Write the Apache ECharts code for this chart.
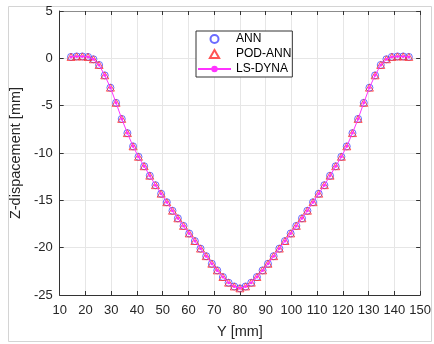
<!DOCTYPE html>
<html>
<head>
<meta charset="utf-8">
<script src="https://cdn.jsdelivr.net/npm/echarts@6/dist/echarts.min.js"></script>
<style>
  html, body { margin: 0; padding: 0; background: #fff; }
  #chart { width: 434px; height: 344px; }
</style>
</head>
<body>
<div id="chart"></div>
<script>
// Y position of the nodes [mm]
const yPos = [
  14.4, 16.6, 18.8, 21.0, 23.1, 25.3, 27.5, 29.7, 31.9, 34.1,
  36.3, 38.5, 40.6, 42.8, 45.0, 47.2, 49.4, 51.6, 53.8, 55.9,
  58.1, 60.3, 62.5, 64.7, 66.9, 69.1, 71.2, 73.4, 75.6, 77.8,
  80.0, 82.2, 84.4, 86.6, 88.8, 90.9, 93.1, 95.3, 97.5, 99.7,
  101.9, 104.1, 106.2, 108.4, 110.6, 112.8, 115.0, 117.2, 119.4, 121.5,
  123.7, 125.9, 128.1, 130.3, 132.5, 134.7, 136.9, 139.0, 141.2, 143.4, 145.6
];

// Z displacement [mm], LS-DYNA reference
const lsDyna = [
  0.15, 0.2, 0.2, 0.15, -0.1, -0.7, -1.8, -3.1, -4.7, -6.4,
  -7.9, -9.3, -10.4, -11.4, -12.4, -13.4, -14.3, -15.2, -16.1, -16.9,
  -17.7, -18.5, -19.3, -20.1, -20.9, -21.7, -22.4, -23.1, -23.7, -24.1,
  -24.3, -24.1, -23.7, -23.1, -22.4, -21.7, -20.9, -20.1, -19.3, -18.5,
  -17.7, -16.9, -16.1, -15.2, -14.3, -13.4, -12.4, -11.4, -10.4, -9.3,
  -7.9, -6.4, -4.7, -3.1, -1.8, -0.7, -0.1, 0.15, 0.2, 0.2, 0.15
];

// predictions overlap the reference within reading precision
const ann = lsDyna.slice();
const podAnn = lsDyna.slice();

const xTicks = { min: 10, max: 150, interval: 10 };
const yTicks = { min: -25, max: 5, interval: 5 };

const pairs = (vals) => yPos.map((y, i) => [y, vals[i]]);

const axisDark = '#333333';
const axisLight = '#8c8c8c';
const gridColor = '#e6e6e6';
const font = 'Liberation Sans, Arial, Helvetica, sans-serif';
// upward triangle, kept square so the legend icon is not stretched
const triangle = 'path://M5,0L10,8.66L0,8.66Z';

const chart = echarts.init(document.getElementById('chart'));

const option = {
  backgroundColor: '#fff',
  animation: false,
  textStyle: { fontFamily: font },
  graphic: [
    {
      type: 'rect',
      shape: { x: 8.5, y: 6.5, width: 423, height: 335 },
      style: { fill: 'none', stroke: '#d4d4d4', lineWidth: 1 },
      silent: true,
      z: -10,
    },
  ],
  grid: {
    left: 56,
    right: 9,
    top: 11,
    bottom: 47,
    containLabel: false,
  },
  legend: {
    orient: 'vertical',
    left: 196,
    top: 31,
    padding: [2, 1, 2, 1],
    itemGap: 3,
    itemWidth: 33,
    itemHeight: 8,
    symbolKeepAspect: true,
    backgroundColor: '#fff',
    borderColor: '#333',
    borderWidth: 1,
    textStyle: { color: '#000', fontSize: 12, fontFamily: font },
    data: ['ANN', 'POD-ANN', 'LS-DYNA'],
  },
  xAxis: [
    {
      type: 'value',
      min: xTicks.min,
      max: xTicks.max,
      interval: xTicks.interval,
      name: 'Y [mm]',
      nameLocation: 'middle',
      nameGap: 29,
      nameTextStyle: { color: '#262626', fontSize: 14.5 },
      axisLine: { show: true, onZero: false, lineStyle: { color: axisDark, width: 1 } },
      axisTick: { show: true, inside: true, length: 4, lineStyle: { color: axisDark } },
      axisLabel: { color: '#262626', fontSize: 13, margin: 9 },
      splitLine: { show: true, lineStyle: { color: gridColor, width: 1 } },
    },
    {
      type: 'value',
      position: 'top',
      min: xTicks.min,
      max: xTicks.max,
      interval: xTicks.interval,
      axisLine: { show: true, onZero: false, lineStyle: { color: axisLight, width: 1 } },
      axisTick: { show: true, inside: true, length: 4, lineStyle: { color: axisDark } },
      axisLabel: { show: false },
      splitLine: { show: false },
    },
  ],
  yAxis: [
    {
      type: 'value',
      min: yTicks.min,
      max: yTicks.max,
      interval: yTicks.interval,
      name: 'Z-dispacement [mm]',
      nameLocation: 'middle',
      nameGap: 22,
      nameTextStyle: { color: '#262626', fontSize: 14.5 },
      axisLine: { show: true, onZero: false, lineStyle: { color: axisDark, width: 1 } },
      axisTick: { show: true, inside: true, length: 4, lineStyle: { color: axisDark } },
      axisLabel: { color: '#262626', fontSize: 13, margin: 7 },
      splitLine: { show: true, lineStyle: { color: gridColor, width: 1 } },
    },
    {
      type: 'value',
      position: 'right',
      min: yTicks.min,
      max: yTicks.max,
      interval: yTicks.interval,
      axisLine: { show: true, onZero: false, lineStyle: { color: axisLight, width: 1 } },
      axisTick: { show: true, inside: true, length: 4, lineStyle: { color: axisDark } },
      axisLabel: { show: false },
      splitLine: { show: false },
    },
  ],
  series: [
    {
      name: 'ANN',
      type: 'scatter',
      symbol: 'circle',
      symbolSize: 7,
      itemStyle: { color: 'rgba(0,0,0,0)', borderColor: '#4646ff', borderWidth: 1 },
      data: pairs(ann),
      z: 3,
    },
    {
      name: 'POD-ANN',
      type: 'scatter',
      symbol: triangle,
      symbolSize: 8,
      symbolKeepAspect: true,
      itemStyle: { color: 'rgba(0,0,0,0)', borderColor: '#ff2a2a', borderWidth: 1 },
      data: pairs(podAnn),
      z: 4,
    },
    {
      name: 'LS-DYNA',
      type: 'line',
      symbol: 'circle',
      symbolSize: 3,
      showSymbol: true,
      lineStyle: { color: '#ff33ff', width: 1 },
      itemStyle: { color: '#ff33ff' },
      data: pairs(lsDyna),
      z: 5,
    },
  ],
};

chart.setOption(option);
</script>
</body>
</html>
